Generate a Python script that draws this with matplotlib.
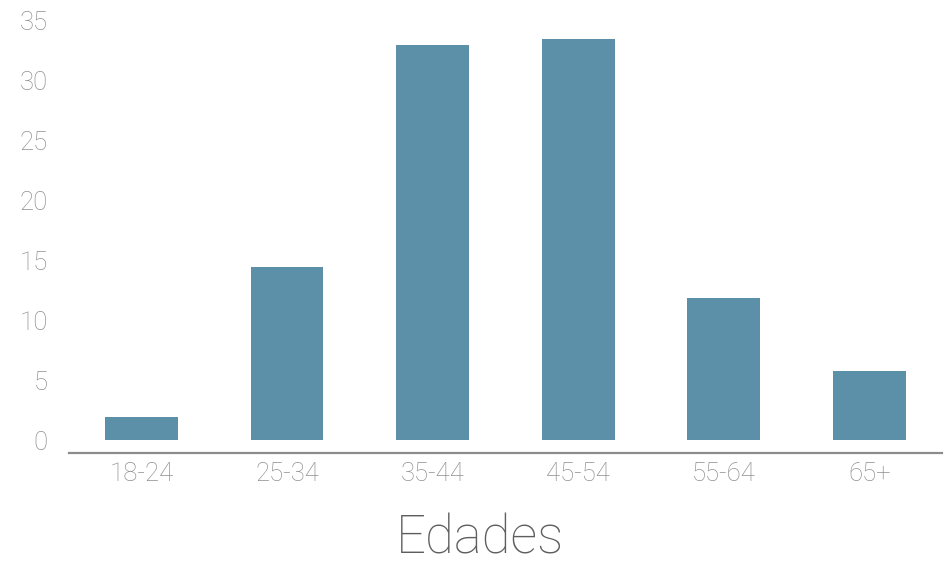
import matplotlib
matplotlib.use("Agg")
import matplotlib.pyplot as plt

# Distribucion por edades
grupos = ["18-24", "25-34", "35-44", "45-54", "55-64", "65+"]
valores = [1.9, 14.4, 32.9, 33.4, 11.8, 5.75]
yticks = [0, 5, 10, 15, 20, 25, 30, 35]

plt.rcParams['font.family'] = ['Roboto', 'DejaVu Sans']

fig = plt.figure(figsize=(9.5, 5.65), dpi=100)
ax = fig.add_axes([0.0723, 0.1988, 0.9196, 0.7658])

ax.bar(range(len(grupos)), valores, width=0.5, color='#5c8fa8')

ax.set_xlim(-0.5, 5.5)
ax.set_ylim(-1.05, 35)
ax.set_xticks(range(len(grupos)))
ax.set_xticklabels(grupos)
ax.set_yticks(yticks)

for side in ['top', 'right', 'left']:
    ax.spines[side].set_visible(False)
ax.spines['bottom'].set_color('#8c8c8c')
ax.spines['bottom'].set_linewidth(1.6)

ax.tick_params(axis='both', length=0, labelsize=18.5, labelcolor='#8f8f8f')
ax.tick_params(axis='y', pad=15)
ax.tick_params(axis='x', pad=7)
for lbl in ax.get_xticklabels() + ax.get_yticklabels():
    lbl.set_fontweight('light')

fig.text(480 / 950, 0.046, "Edades", ha='center', va='center',
         fontsize=38, color='#5e5e5e', fontweight='light')

fig.savefig("out.png", dpi=100)
